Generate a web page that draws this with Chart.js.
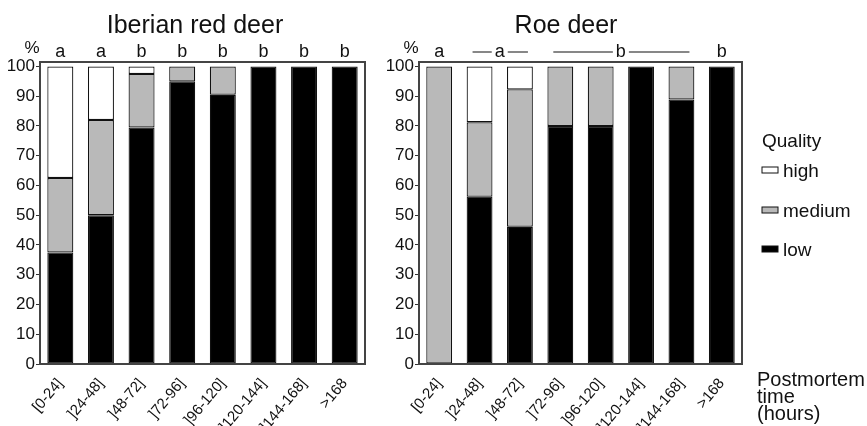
<!DOCTYPE html>
<html>
<head>
<meta charset="utf-8">
<script src="https://cdn.jsdelivr.net/npm/chart.js@4"></script>
<style>
  body { margin: 0; background: #fff; width: 867px; height: 426px; overflow: hidden; position: relative; }
  .box { position: absolute; top: 0; height: 426px; }
</style>
</head>
<body>
<div class="box" style="left:0;width:380px"><canvas id="canvas1"></canvas></div>
<div class="box" style="left:379px;width:488px"><canvas id="canvas2"></canvas></div>
<script>
// time classes (hours)
const categories = ['[0-24]', ']24-48]', ']48-72]', ']72-96]', ']96-120]', ']120-144]', ']144-168]', '>168'];
const yTicks = [0, 10, 20, 30, 40, 50, 60, 70, 80, 90, 100];

// Iberian red deer, % of samples
const redLow    = [37.5, 50, 79.5, 95, 90.5, 100, 100, 100];
const redMedium = [25, 32, 18, 5, 9.5, 0, 0, 0];
const redHigh   = [37.5, 18, 2.5, 0, 0, 0, 0, 0];
const redLetters = ['a', 'a', 'b', 'b', 'b', 'b', 'b', 'b'];

// Roe deer, % of samples
const roeLow    = [0, 56.25, 46.15, 80, 80, 100, 88.9, 100];
const roeMedium = [100, 25, 46.15, 20, 20, 0, 11.1, 0];
const roeHigh   = [0, 18.75, 7.7, 0, 0, 0, 0, 0];
// letter groups: [first bar, last bar, letter]
const roeGroups = [[0, 0, 'a'], [1, 2, 'a'], [3, 6, 'b'], [7, 7, 'b']];

const FONT = '"Liberation Sans", Arial, sans-serif';
const colLow = '#000000', colMed = '#b9b9b9', colHigh = '#ffffff';

Chart.defaults.font.family = FONT;
Chart.defaults.color = '#111';

function makeDatasets(low, med, high) {
    return [
        { label: 'low', data: low, backgroundColor: colLow },
        { label: 'medium', data: med, backgroundColor: colMed },
        { label: 'high', data: high, backgroundColor: colHigh }
    ].map(function (d) {
        d.borderColor = '#111';
        d.borderWidth = function (c) { return c.raw ? 1.2 : 0; };
        d.borderSkipped = false;
        d.categoryPercentage = 1;
        d.barPercentage = 0.64;
        return d;
    });
}

function makeOptions(rightPad) {
    return {
        responsive: true,
        maintainAspectRatio: false,
        animation: false,
        layout: { padding: { top: 62, right: rightPad, bottom: 0, left: 0 } },
        plugins: { legend: { display: false }, tooltip: { enabled: false }, title: { display: false } },
        scales: {
            x: {
                stacked: true,
                grid: { display: false },
                border: { display: false },
                ticks: { font: { size: 15 }, minRotation: 50, maxRotation: 50, autoSkip: false, padding: 3, color: '#111' },
                afterFit: function (s) { s.height = 62; }
            },
            y: {
                stacked: true,
                min: 0,
                max: 101.5,
                afterBuildTicks: function (s) { s.ticks = yTicks.map(function (v) { return { value: v }; }); },
                ticks: { font: { size: 17 }, padding: 1, color: '#111' },
                grid: { display: true, drawOnChartArea: false, drawTicks: true, tickLength: 4, color: '#333' },
                border: { display: false },
                afterFit: function (s) { s.width = 40; }
            }
        }
    };
}

// frame round the plot, the % sign and the title
function framePlugin(title, titleX) {
    return {
        id: 'frame',
        afterDraw: function (chart) {
            const ctx = chart.ctx, a = chart.chartArea;
            ctx.save();
            ctx.strokeStyle = '#444';
            ctx.lineWidth = 2;
            ctx.strokeRect(a.left, a.top, a.right - a.left, a.bottom - a.top);
            ctx.fillStyle = '#111';
            ctx.font = '25px ' + FONT;
            ctx.textAlign = 'center';
            ctx.textBaseline = 'alphabetic';
            ctx.fillText(title, titleX, 33);
            ctx.font = '17px ' + FONT;
            ctx.fillText('%', a.left - 8, 53);
            ctx.restore();
        }
    };
}

const letterPlugin1 = {
    id: 'letters1',
    afterDraw: function (chart) {
        const ctx = chart.ctx, x = chart.scales.x;
        ctx.save();
        ctx.fillStyle = '#111';
        ctx.font = '18px ' + FONT;
        ctx.textAlign = 'center';
        redLetters.forEach(function (l, i) {
            ctx.fillText(l, x.getPixelForValue(i), 57);
        });
        ctx.restore();
    }
};

const letterPlugin2 = {
    id: 'letters2',
    afterDraw: function (chart) {
        const ctx = chart.ctx, x = chart.scales.x;
        ctx.save();
        ctx.fillStyle = '#111';
        ctx.strokeStyle = '#111';
        ctx.lineWidth = 1.2;
        ctx.font = '18px ' + FONT;
        ctx.textAlign = 'center';
        roeGroups.forEach(function (g) {
            const x1 = x.getPixelForValue(g[0]), x2 = x.getPixelForValue(g[1]);
            const mid = (x1 + x2) / 2;
            ctx.fillText(g[2], mid, 57);
            if (g[1] > g[0]) {
                ctx.beginPath();
                ctx.moveTo(x1 - 7, 52); ctx.lineTo(mid - 8, 52);
                ctx.moveTo(mid + 8, 52); ctx.lineTo(x2 + 8, 52);
                ctx.stroke();
            }
        });
        // legend
        const lx = 762 - 379;
        ctx.textAlign = 'left';
        ctx.font = '19px ' + FONT;
        ctx.fillText('Quality', lx, 147);
        const items = [['high', colHigh, 170], ['medium', colMed, 210], ['low', colLow, 249]];
        items.forEach(function (it) {
            ctx.fillStyle = it[1];
            ctx.fillRect(lx, it[2] - 3, 16, 6);
            ctx.strokeStyle = '#111';
            ctx.lineWidth = 1;
            ctx.strokeRect(lx, it[2] - 3, 16, 6);
            ctx.fillStyle = '#111';
            ctx.fillText(it[0], lx + 21, it[2] + 7);
        });
        // axis title
        ctx.font = '20px ' + FONT;
        const px = 757 - 379;
        ctx.fillText('Postmortem', px, 386);
        ctx.fillText('time', px, 403);
        ctx.fillText('(hours)', px, 420);
        ctx.restore();
    }
};

new Chart(document.getElementById('canvas1').getContext('2d'), {
    type: 'bar',
    data: { labels: categories, datasets: makeDatasets(redLow, redMedium, redHigh) },
    options: makeOptions(15),
    plugins: [framePlugin('Iberian red deer', 195), letterPlugin1]
});

new Chart(document.getElementById('canvas2').getContext('2d'), {
    type: 'bar',
    data: { labels: categories, datasets: makeDatasets(roeLow, roeMedium, roeHigh) },
    options: makeOptions(125),
    plugins: [framePlugin('Roe deer', 566 - 379), letterPlugin2]
});
</script>
</body>
</html>
